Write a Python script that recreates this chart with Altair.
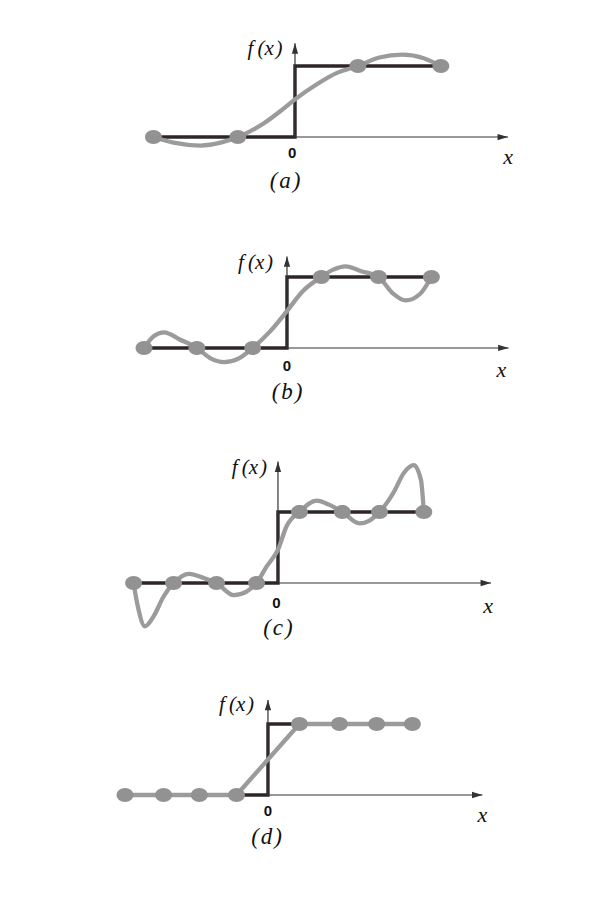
import altair as alt
import pandas as pd

# ---------------- values ----------------
# x: the step is at x = 0, outer knots at about +-1; y: low level 0, high level 1
captions = ["(\u200aa\u200a)", "(\u200ab\u200a)", "(\u200ac\u200a)", "(\u200ad\u200a)"]
fx_text = "f\u2009(x\u200a)"

a_knot_x = [-0.99, -0.40, 0.44, 1.02]
a_knot_y = [0, 0, 1, 1]
a_curve_x = [-0.99, -0.85, -0.66, -0.52, -0.40, -0.22, -0.08, 0.0, 0.15, 0.29, 0.44, 0.59, 0.75, 0.90, 1.02]
a_curve_y = [0.0, -0.08, -0.12, -0.08, 0.0, 0.19, 0.40, 0.53, 0.74, 0.90, 1.0, 1.12, 1.16, 1.11, 1.0]

b_knot_x = [-1.0, -0.63, -0.24, 0.24, 0.64, 1.01]
b_knot_y = [0, 0, 0, 1, 1, 1]
b_curve_x = [-1.0, -0.93, -0.86, -0.75, -0.63, -0.53, -0.44, -0.34, -0.24, -0.12, 0.0, 0.11, 0.24,
             0.32, 0.41, 0.52, 0.64, 0.74, 0.83, 0.93, 1.01]
b_curve_y = [0.0, 0.17, 0.22, 0.12, 0.0, -0.15, -0.20, -0.15, 0.0, 0.23, 0.52, 0.80, 1.0,
             1.10, 1.15, 1.08, 1.0, 0.77, 0.67, 0.76, 1.0]

c_knot_x = [-1.01, -0.73, -0.43, -0.15, 0.15, 0.45, 0.71, 1.02]
c_knot_y = [0, 0, 0, 0, 1, 1, 1, 1]
c_curve_x = [-1.01, -0.98, -0.93, -0.87, -0.80, -0.73, -0.62, -0.52, -0.43, -0.31, -0.22, -0.15, -0.08,
             0.0, 0.06, 0.15, 0.27, 0.36, 0.45, 0.57, 0.64, 0.71, 0.81, 0.88, 0.95, 1.0, 1.02]
c_curve_y = [0.0, -0.33, -0.61, -0.47, -0.19, 0.0, 0.13, 0.07, 0.0, -0.17, -0.12, 0.0, 0.23,
             0.47, 0.80, 1.0, 1.16, 1.10, 1.0, 0.84, 0.88, 1.0, 1.28, 1.55, 1.66, 1.45, 1.0]

d_knot_x = [-1.0, -0.73, -0.48, -0.22, 0.22, 0.50, 0.76, 1.01]
d_knot_y = [0, 0, 0, 0, 1, 1, 1, 1]
d_curve_x = d_knot_x          # linear spline: straight segments between the knots
d_curve_y = d_knot_y

step_low, step_high = 0, 1

# axis extents (x-axis arrow tip, y-axis arrow tip) per panel
x_axis_end = [1.49, 1.55, 1.49, 1.50]
y_axis_top = [1.32, 1.29, 1.71, 1.34]

# label anchors per panel: f(x), "0", "x", caption
fx_pos = [(-0.21, 1.24), (-0.22, 1.19), (-0.20, 1.62), (-0.22, 1.27)]
zero_pos = [(-0.02, -0.23), (0.0, -0.26), (-0.01, -0.28), (0.0, -0.23)]
xlab_pos = [(1.49, -0.28), (1.50, -0.31), (1.47, -0.33), (1.50, -0.28)]
cap_pos = [(-0.07, -0.62), (0.0, -0.62), (0.0, -0.63), (-0.01, -0.59)]

# scale domains per panel (the scanned page is slightly skewed)
x_domains = [(-2.007, 2.119), (-1.951, 2.175), (-1.888, 2.238), (-1.818, 2.308)]
y_domains = [(-1.239, 1.817), (-1.296, 1.732), (-1.366, 2.014), (-1.521, 1.620)]
heights = [217, 215, 240, 223]
W = 590

knots = [(a_knot_x, a_knot_y), (b_knot_x, b_knot_y), (c_knot_x, c_knot_y), (d_knot_x, d_knot_y)]
curves = [(a_curve_x, a_curve_y), (b_curve_x, b_curve_y), (c_curve_x, c_curve_y), (d_curve_x, d_curve_y)]
interps = ["monotone", "monotone", "monotone", "linear"]

STEP_C = "#2e2626"
CURVE_C = "#9b9b9b"
PT_C = "#929292"
AX_C = "#333333"
TXT_C = "#111111"
SERIF = "Liberation Serif"

ELLIPSE = "M-1.15,0 A1.15,0.95 0 1,1 1.15,0 A1.15,0.95 0 1,1 -1.15,0 Z"
ARROW_UP = "M0,0 L-0.6,2 L0.6,2 Z"
ARROW_RIGHT = "M0,0 L-2,-0.6 L-2,0.6 Z"


def panel(k):
    xs = alt.Scale(domain=list(x_domains[k]), nice=False, zero=False)
    ys = alt.Scale(domain=list(y_domains[k]), nice=False, zero=False)

    def X(f):
        return alt.X(f, type="quantitative", scale=xs, axis=None)

    def Y(f):
        return alt.Y(f, type="quantitative", scale=ys, axis=None)

    kx, ky = knots[k]
    cx, cy = curves[k]

    step_df = pd.DataFrame({"x": [kx[0], 0, 0, kx[-1]],
                            "y": [step_low, step_low, step_high, step_high],
                            "i": [0, 1, 2, 3]})
    curve_df = pd.DataFrame({"x": cx, "y": cy, "i": list(range(len(cx)))})
    knot_df = pd.DataFrame({"x": kx, "y": ky})
    axes_df = pd.DataFrame({"x": [0, 0], "x2": [x_axis_end[k], 0],
                            "y": [0, 0], "y2": [0, y_axis_top[k]]})
    up_df = pd.DataFrame({"x": [0], "y": [y_axis_top[k]]})
    right_df = pd.DataFrame({"x": [x_axis_end[k]], "y": [0]})

    def lab(pos, t):
        return pd.DataFrame({"x": [pos[0]], "y": [pos[1]], "t": [t]})

    axes = alt.Chart(axes_df).mark_rule(color=AX_C, strokeWidth=1.2).encode(
        x=X("x"), x2="x2", y=Y("y"), y2="y2")
    up = alt.Chart(up_df).mark_point(shape=ARROW_UP, size=110, filled=True,
                                     color=AX_C, opacity=1).encode(x=X("x"), y=Y("y"))
    right = alt.Chart(right_df).mark_point(shape=ARROW_RIGHT, size=110, filled=True,
                                           color=AX_C, opacity=1).encode(x=X("x"), y=Y("y"))
    step = alt.Chart(step_df).mark_line(color=STEP_C, strokeWidth=3.4,
                                        strokeJoin="miter").encode(
        x=X("x"), y=Y("y"), order="i:Q")
    curve = alt.Chart(curve_df).mark_line(color=CURVE_C, strokeWidth=4.3,
                                          interpolate=interps[k]).encode(
        x=X("x"), y=Y("y"), order="i:Q")
    pts = alt.Chart(knot_df).mark_point(shape=ELLIPSE, size=215, filled=True,
                                        color=PT_C, opacity=1).encode(x=X("x"), y=Y("y"))
    fx = alt.Chart(lab(fx_pos[k], fx_text)).mark_text(
        font=SERIF, fontStyle="italic", fontSize=21, color=TXT_C).encode(
        x=X("x"), y=Y("y"), text="t:N")
    zero = alt.Chart(lab(zero_pos[k], "0")).mark_text(
        font="Liberation Sans", fontWeight="bold", fontSize=15, color=TXT_C).encode(
        x=X("x"), y=Y("y"), text="t:N")
    xl = alt.Chart(lab(xlab_pos[k], "x")).mark_text(
        font=SERIF, fontStyle="italic", fontSize=22, color=TXT_C).encode(
        x=X("x"), y=Y("y"), text="t:N")
    cap = alt.Chart(lab(cap_pos[k], captions[k])).mark_text(
        font=SERIF, fontStyle="italic", fontSize=23, color=TXT_C).encode(
        x=X("x"), y=Y("y"), text="t:N")

    return alt.layer(step, axes, up, right, curve, pts, fx, zero, xl, cap).properties(
        width=W, height=heights[k])


chart = alt.vconcat(*[panel(k) for k in range(4)], spacing=0).resolve_scale(
    x="independent", y="independent").properties(padding=0, background="white").configure_view(
    stroke=None)

chart.save("out.html", embed_options={"renderer": "svg", "actions": False})
